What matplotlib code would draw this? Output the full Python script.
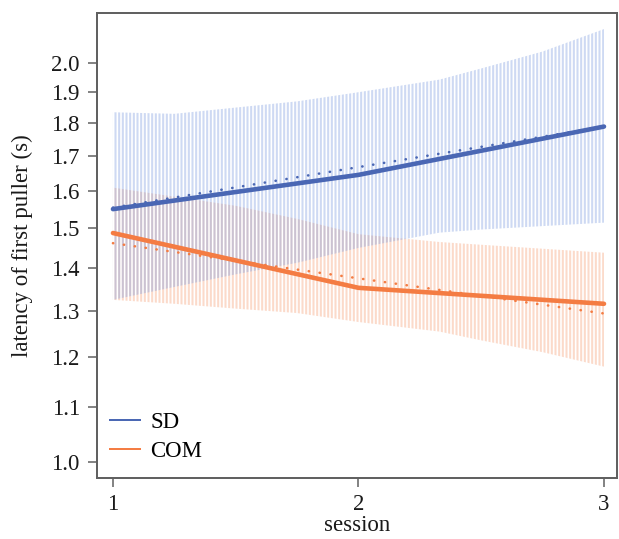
import numpy as np
import matplotlib
matplotlib.use("Agg")
import matplotlib.pyplot as plt
from matplotlib.ticker import FixedLocator, FixedFormatter, NullLocator

plt.rcParams['font.family'] = ['Liberation Serif', 'DejaVu Serif']
plt.rcParams['hatch.linewidth'] = 1.35

# ---- data ----
sessions = [1, 2, 3]
sd_mean = [1.551, 1.646, 1.790]
com_mean = [1.488, 1.353, 1.316]

fit_x = [1, 3]
sd_fit = [1.555, 1.790]
com_fit = [1.462, 1.294]

band_x = [1.0, 1.25, 1.5, 1.75, 2.0, 2.33, 2.5, 2.75, 3.0]
sd_upper = [1.835, 1.830, 1.850, 1.870, 1.900, 1.942, 1.980, 2.039, 2.120]
sd_lower = [1.325, 1.355, 1.385, 1.413, 1.450, 1.489, 1.497, 1.506, 1.515]
com_upper = [1.610, 1.585, 1.560, 1.525, 1.485, 1.465, 1.458, 1.448, 1.438]
com_lower = [1.325, 1.316, 1.305, 1.295, 1.275, 1.254, 1.235, 1.210, 1.180]

yticks = [1.0, 1.1, 1.2, 1.3, 1.4, 1.5, 1.6, 1.7, 1.8, 1.9, 2.0]
ytick_labels = ['1.0', '1.1', '1.2', '1.3', '1.4', '1.5', '1.6', '1.7', '1.8', '1.9', '2.0']
xticks = [1, 2, 3]
xtick_labels = ['1', '2', '3']

blue = '#4a67b4'
orange = '#f47c43'
blue_band = '#7f9de0'
orange_band = '#f47c43'

DPI = 110
fig = plt.figure(figsize=(619 / DPI, 539 / DPI), dpi=DPI)
ax = fig.add_axes([97 / 619, 1 - 478 / 539, (617 - 97) / 619, (478 - 13) / 539])
ax.set_yscale('log')

def rgba(c, a):
    r, g, b, _ = matplotlib.colors.to_rgba(c)
    return (r, g, b, a)

ax.fill_between(band_x, com_lower, com_upper, facecolor='none',
                edgecolor=rgba(orange_band, 0.28), hatch='|||||', linewidth=0, zorder=1)
ax.fill_between(band_x, sd_lower, sd_upper, facecolor='none',
                edgecolor=rgba(blue_band, 0.38), hatch='|||||', linewidth=0, zorder=1)

ax.plot(fit_x, sd_fit, color=blue, lw=1.7, linestyle=(0, (0.1, 4.13)),
        dash_capstyle='round', zorder=2)
ax.plot(fit_x, com_fit, color=orange, lw=1.7, linestyle=(0, (0.1, 4.13)),
        dash_capstyle='round', zorder=2)

ax.plot(sessions, sd_mean, color=blue, lw=3.0, solid_capstyle='round', zorder=3)
ax.plot(sessions, com_mean, color=orange, lw=3.0, solid_capstyle='round', zorder=3)

# legend proxies
ax.plot([], [], color=blue, lw=1.3, label='SD')
ax.plot([], [], color=orange, lw=1.3, label='COM')
handles, labels = ax.get_legend_handles_labels()
leg = ax.legend(handles[-2:], labels[-2:], loc='lower left',
                bbox_to_anchor=(0.012, 0.02), frameon=False, fontsize=15,
                handlelength=1.3, handletextpad=0.45, labelspacing=0.35,
                borderpad=0.3, borderaxespad=0.0)

ax.set_xlim(0.935, 3.053)
ax.set_ylim(0.9726, 2.18)

ax.yaxis.set_major_locator(FixedLocator(yticks))
ax.yaxis.set_major_formatter(FixedFormatter(ytick_labels))
ax.yaxis.set_minor_locator(NullLocator())
ax.set_xticks(xticks)
ax.set_xticklabels(xtick_labels)

spine_c = '#606060'
for s in ax.spines.values():
    s.set_color(spine_c)
    s.set_linewidth(1.3)
ax.tick_params(axis='both', direction='out', length=6.2, width=1.0,
               color=spine_c, labelsize=15, labelcolor='#1a1a1a')
ax.tick_params(axis='y', pad=5)
ax.tick_params(axis='x', pad=4.5, length=6.0)

ax.set_xlabel('session', fontsize=15, labelpad=0, color='#1a1a1a')
ax.set_ylabel('latency of first puller (s)', fontsize=15, labelpad=12, color='#1a1a1a')

fig.savefig('out.png', dpi=DPI)
